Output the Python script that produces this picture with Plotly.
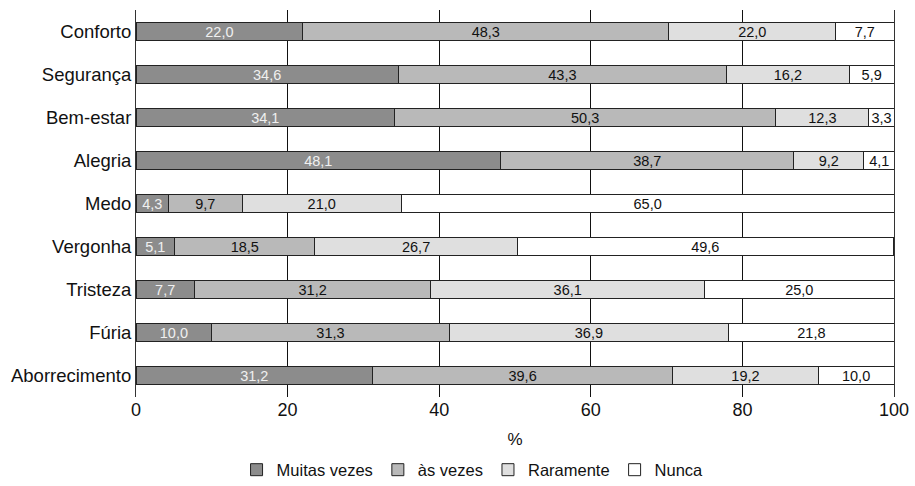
import plotly.graph_objects as go

categories = ["Conforto", "Segurança", "Bem-estar", "Alegria", "Medo",
              "Vergonha", "Tristeza", "Fúria", "Aborrecimento"]
muitas_vezes = [22.0, 34.6, 34.1, 48.1, 4.3, 5.1, 7.7, 10.0, 31.2]
as_vezes = [48.3, 43.3, 50.3, 38.7, 9.7, 18.5, 31.2, 31.3, 39.6]
raramente = [22.0, 16.2, 12.3, 9.2, 21.0, 26.7, 36.1, 36.9, 19.2]
nunca = [7.7, 5.9, 3.3, 4.1, 65.0, 49.6, 25.0, 21.8, 10.0]
x_ticks = [0, 20, 40, 60, 80, 100]

series = [
    ("Muitas vezes", muitas_vezes, "#8c8c8c", "#f0f0f0"),
    ("às vezes", as_vezes, "#b9b9b9", "#111111"),
    ("Raramente", raramente, "#dfdfdf", "#111111"),
    ("Nunca", nunca, "#ffffff", "#111111"),
]

FONT = "Liberation Sans, Arial, sans-serif"

fig = go.Figure()
for name, vals, color, tcolor in series:
    fig.add_trace(go.Bar(
        name=name, y=categories, x=vals, orientation="h",
        marker=dict(color=color, line=dict(color="#222222", width=1)),
        texttemplate="%{x:.1f}", textposition="inside",
        insidetextanchor="middle", textangle=0,
        insidetextfont=dict(color=tcolor, size=14.5, family=FONT),
        hoverinfo="skip",
    ))

fig.update_layout(
    barmode="stack",
    bargap=0.56,
    separators=",.",
    width=915, height=486,
    margin=dict(l=136, r=21, t=10, b=89),
    plot_bgcolor="white", paper_bgcolor="white",
    font=dict(family=FONT, size=18, color="#111111"),
    uniformtext=dict(minsize=14.5, mode="show"),
    legend=dict(orientation="h", x=0.444, xanchor="center",
                yref="container", y=0.033, yanchor="middle",
                font=dict(size=16.5), traceorder="normal", itemwidth=30),
    xaxis=dict(range=[0, 100], tickvals=x_ticks, showgrid=True,
               gridcolor="#111111", gridwidth=1, zeroline=False,
               showline=False, ticks="", tickfont=dict(size=18),
               automargin=False,
               title=dict(text="%", standoff=14, font=dict(size=17))),
    yaxis=dict(categoryorder="array", categoryarray=categories,
               autorange="reversed", showline=True, mirror=True,
               linecolor="#333333", linewidth=1, ticks="",
               automargin=False,
               tickfont=dict(size=18.5), showgrid=False),
)

fig.write_html("out.html", config={"displayModeBar": False},
               post_script="document.body.style.margin='0';document.body.style.padding='0';")
